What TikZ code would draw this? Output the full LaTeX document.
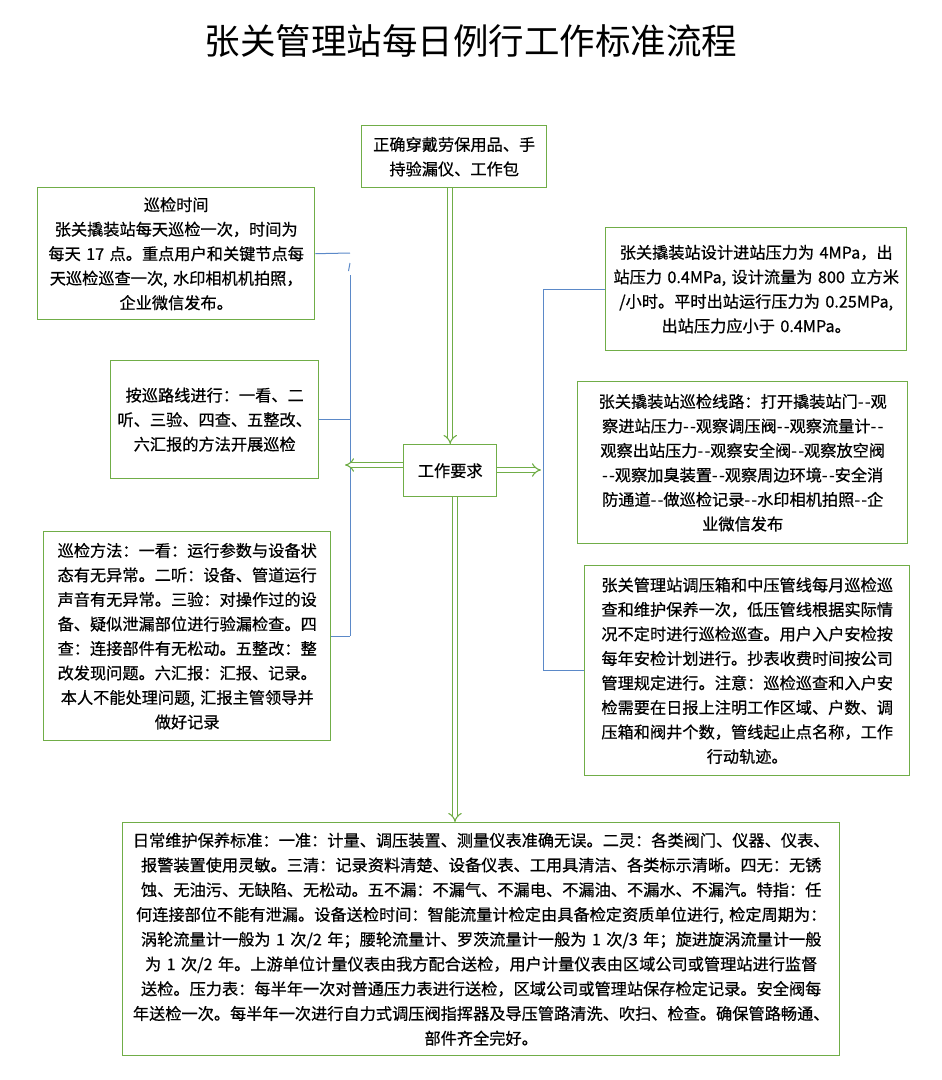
\documentclass[tikz,border=0pt]{standalone}
\usepackage{fontspec}
\setmainfont{Noto Sans CJK SC}[FakeBold=0.6]
\newfontfamily\titlefont{Noto Sans CJK SC}
\usetikzlibrary{arrows.meta}
\definecolor{gr}{HTML}{70AD47}
\definecolor{bl}{HTML}{5B89C8}
\newcommand\dd{-\kern1.5pt-}
\tikzset{
  gbox/.style={draw=gr, line width=1.4pt, fill=white, align=center, inner xsep=4pt, inner ysep=0pt,
    anchor=north west, font=\fontsize{16.2}{24.5}\selectfont},
  blink/.style={draw=bl, line width=1pt},
  garrow/.style={draw=gr, double=white, double distance=3.6pt, line width=1.1pt, -{Implies[scale=1.3]}}
}
\begin{document}
\begin{tikzpicture}[x=1pt,y=-1pt]
\useasboundingbox (0,0) rectangle (942,1080);
\node (title) at (471,41) {\titlefont\fontsize{35.5}{40}\selectfont 张关管理站每日例行工作标准流程};

\node[gbox, text width=177pt, minimum height=62pt] (top) at (361,125)
 {正确穿戴劳保用品、手\\持验漏仪、工作包};
\node[gbox, text width=85pt, minimum height=52pt] (work) at (403,444) {工作要求};

\node[gbox, text width=269pt, minimum height=132pt] (l1) at (37,187)
 {巡检时间\\张关撬装站每天巡检一次，时间为\\每天 17 点。重点用户和关键节点每\\天巡检巡查一次, 水印相机机拍照，\\企业微信发布。};
\node[gbox, text width=200pt, minimum height=118pt] (l2) at (110,360)
 {按巡路线进行：一看、二\\听、三验、四查、五整改、\\六汇报的方法开展巡检};
\node[gbox, text width=279pt, minimum height=209pt] (l3) at (43,531)
 {巡检方法：一看：运行参数与设备状\\态有无异常。二听：设备、管道运行\\声音有无异常。三验：对操作过的设\\备、疑似泄漏部位进行验漏检查。四\\查：连接部件有无松动。五整改：整\\改发现问题。六汇报：汇报、记录。\\本人不能处理问题, 汇报主管领导并\\做好记录};

\node[gbox, text width=293pt, minimum height=123pt] (r1) at (605,227)
 {张关撬装站设计进站压力为 4MPa，出\\站压力 0.4MPa, 设计流量为 800 立方米\\/小时。平时出站运行压力为 0.25MPa,\\出站压力应小于 0.4MPa。};
\node[gbox, text width=322pt, minimum height=162pt] (r2) at (577,381)
 {张关撬装站巡检线路：打开撬装站门\dd 观\\察进站压力\dd 观察调压阀\dd 观察流量计\dd\\观察出站压力\dd 观察安全阀\dd 观察放空阀\\\dd 观察加臭装置\dd 观察周边环境\dd 安全消\\防通道\dd 做巡检记录\dd 水印相机拍照\dd 企\\业微信发布};
\node[gbox, text width=317pt, minimum height=210pt] (r3) at (584,565)
 {张关管理站调压箱和中压管线每月巡检巡\\查和维护保养一次，低压管线根据实际情\\况不定时进行巡检巡查。用户入户安检按\\每年安检计划进行。抄表收费时间按公司\\管理规定进行。注意：巡检巡查和入户安\\检需要在日报上注明工作区域、户数、调\\压箱和阀井个数，管线起止点名称，工作\\行动轨迹。};

\node[gbox, text width=709pt, minimum height=233pt, font=\fontsize{16.2}{24.75}\selectfont] (bot) at (122,822)
 {日常维护保养标准：一准：计量、调压装置、测量仪表准确无误。二灵：各类阀门、仪器、仪表、\\
 报警装置使用灵敏。三清：记录资料清楚、设备仪表、工用具清洁、各类标示清晰。四无：无锈\\
 蚀、无油污、无缺陷、无松动。五不漏：不漏气、不漏电、不漏油、不漏水、不漏汽。特指：任\\
 何连接部位不能有泄漏。设备送检时间：智能流量计检定由具备检定资质单位进行, 检定周期为：\\
 涡轮流量计一般为 1 次/2 年；腰轮流量计、罗茨流量计一般为 1 次/3 年；旋进旋涡流量计一般\\
 为 1 次/2 年。上游单位计量仪表由我方配合送检，用户计量仪表由区域公司或管理站进行监督\\
 送检。压力表：每半年一次对普通压力表进行送检，区域公司或管理站保存检定记录。安全阀每\\
 年送检一次。每半年一次进行自力式调压阀指挥器及导压管路清洗、吹扫、检查。确保管路畅通、\\
 部件齐全完好。};

% blue brackets
\coordinate (lt) at (350,253);
\coordinate (ls) at (350,263);
\coordinate (lv) at (350,275);
\draw[blink] (l1.east) -- (lt);
\draw[blink] (348.5,271) -- (ls);
\draw[blink] (lv) -- (lv |- l3.east);
\draw[blink] (l2.east) -- (l2.east -| lt);
\draw[blink] (l3.east) -- (l3.east -| lt);

\coordinate (rt) at (543,289);
\draw[blink] (r1.west) -- (r1.west -| rt) -- (r3.west -| rt) -- (r3.west);

% green double arrows
\coordinate (la) at (345,465);
\coordinate (ra) at (541,470);
\coordinate (ba) at (455,822);
\draw[garrow] (top.south -| work.north) -- (work.north);
\draw[garrow] (work.west |- la) -- (la);
\draw[garrow] (work.east |- ra) -- (ra);
\draw[garrow] (work.south -| ba) -- (ba);
\end{tikzpicture}
\end{document}
